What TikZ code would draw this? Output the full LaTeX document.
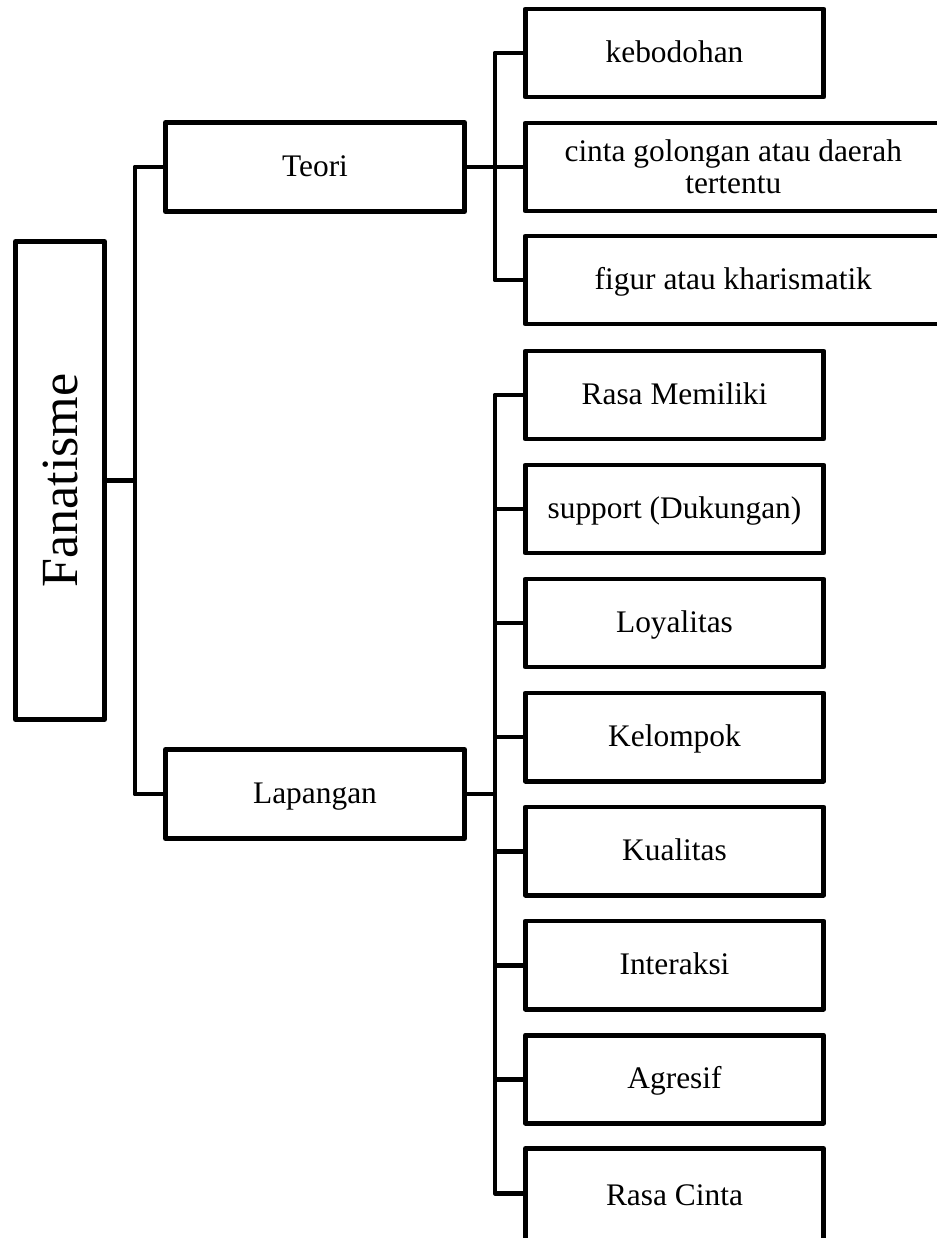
\documentclass[tikz,border=0pt]{standalone}
\usepackage{fontspec}
\setmainfont{Liberation Serif}
\begin{document}
\begin{tikzpicture}[x=0.03cm,y=-0.03cm,
  box/.style={draw=black, line width=4.25pt, line join=round, rectangle,
    inner sep=0pt, align=center, font=\fontsize{26.8pt}{27pt}\selectfont},
  oneline/.style={text height=20pt, text depth=3pt},
  leaf/.style={box, oneline, minimum width=8.94cm, minimum height=2.64cm},
  wide/.style={box, minimum width=12.48cm, minimum height=2.64cm},
  mid/.style={box, oneline, minimum width=8.97cm, minimum height=2.67cm},
  wire/.style={draw=black, line width=4.25pt, line join=round}]

\useasboundingbox (0,0) rectangle (937,1238);
\clip (0,0) rectangle (937,1238);

% root
\node[box, minimum width=2.67cm, minimum height=14.34cm,
      font=\fontsize{44.5pt}{46pt}\selectfont] (fan) at (60,480.5)
      {\rotatebox{90}{Fanatisme}};

% second level
\node[mid] (teori) at (315,167) {Teori};
\node[mid] (lap)   at (315,794) {Lapangan};

% branches of Teori
\node[leaf] (keb) at (674.5,53)  {kebodohan};
\node[wide] (cin) at (733.25,167) {cinta golongan atau daerah\\tertentu};
\node[wide, oneline] (fig) at (733.25,280) {figur atau kharismatik};

% branches of Lapangan
\node[leaf] (rm)  at (674.5,395)  {Rasa Memiliki};
\node[leaf] (sup) at (674.5,509)  {support (Dukungan)};
\node[leaf] (loy) at (674.5,623)  {Loyalitas};
\node[leaf] (kel) at (674.5,737)  {Kelompok};
\node[leaf] (kua) at (674.5,851)  {Kualitas};
\node[leaf] (int) at (674.5,965)  {Interaksi};
\node[leaf] (agr) at (674.5,1079) {Agresif};
\node[leaf, minimum height=2.85cm] (rc) at (674.5,1196) {Rasa Cinta};

% junction points
\coordinate (fj) at (135,480.5);
\coordinate (tj) at (495,167);
\coordinate (lj) at (495,794);

% root to second level
\draw[wire] (teori.west) -| (fj) |- (lap.west);
\draw[wire] (fan.east) -- (fan.east -| fj);

% Teori to its branches
\draw[wire] (keb.west) -| (tj) |- (fig.west);
\draw[wire] (teori.east) -- (cin.west);

% Lapangan to its branches
\draw[wire] (rm.west) -| (lj) |- ([yshift=0.09cm]rc.west);
\draw[wire] (lap.east) -- (lj);
\foreach \n in {sup,loy,kel,kua,int,agr}
  \draw[wire] (\n.west) -- (\n.west -| lj);
\end{tikzpicture}
\end{document}
